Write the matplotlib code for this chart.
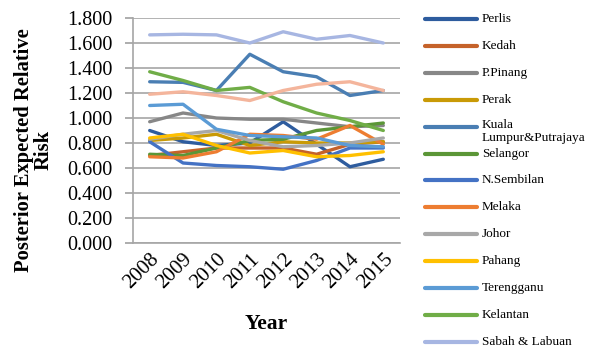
import matplotlib
matplotlib.use("Agg")
import matplotlib.pyplot as plt
from matplotlib.lines import Line2D

plt.rcParams['font.family'] = ['Liberation Serif', 'DejaVu Serif']

years = ['2008', '2009', '2010', '2011', '2012', '2013', '2014', '2015']

perlis = [0.90, 0.81, 0.78, 0.80, 0.97, 0.79, 0.61, 0.67]
kedah = [0.70, 0.73, 0.76, 0.76, 0.76, 0.71, 0.79, 0.81]
p_pinang = [0.97, 1.04, 1.00, 0.99, 0.99, 0.96, 0.93, 0.94]
perak = [0.82, 0.84, 0.87, 0.78, 0.81, 0.80, 0.80, 0.81]
kuala_lumpur = [1.29, 1.285, 1.22, 1.51, 1.37, 1.33, 1.18, 1.22]
selangor = [0.71, 0.70, 0.76, 0.82, 0.83, 0.90, 0.93, 0.96]
n_sembilan = [0.81, 0.64, 0.62, 0.61, 0.59, 0.66, 0.76, 0.76]
melaka = [0.69, 0.68, 0.73, 0.87, 0.86, 0.83, 0.94, 0.79]
johor = [0.83, 0.87, 0.90, 0.82, 0.77, 0.78, 0.80, 0.84]
pahang = [0.84, 0.87, 0.78, 0.72, 0.74, 0.69, 0.70, 0.73]
terengganu = [1.10, 1.11, 0.91, 0.86, 0.85, 0.84, 0.78, 0.77]
kelantan = [1.37, 1.30, 1.22, 1.245, 1.13, 1.04, 0.98, 0.90]
sabah_labuan = [1.665, 1.67, 1.665, 1.60, 1.69, 1.63, 1.66, 1.60]
sarawak = [1.19, 1.21, 1.18, 1.14, 1.22, 1.27, 1.29, 1.22]

series = [
    ("Perlis", perlis, "#2E5C9E"),
    ("Kedah", kedah, "#C5622A"),
    ("P.Pinang", p_pinang, "#878787"),
    ("Perak", perak, "#C99A06"),
    ("Kuala\nLumpur&Putrajaya", kuala_lumpur, "#4A7EB3"),
    ("Selangor", selangor, "#5B9637"),
    ("N.Sembilan", n_sembilan, "#4472C4"),
    ("Melaka", melaka, "#ED7D31"),
    ("Johor", johor, "#A8A8A8"),
    ("Pahang", pahang, "#FFC000"),
    ("Terengganu", terengganu, "#5B9BD5"),
    ("Kelantan", kelantan, "#70AD47"),
    ("Sabah & Labuan", sabah_labuan, "#A7B6E2"),
    (None, sarawak, "#F4B59C"),
]

W, H = 596, 347
fig = plt.figure(figsize=(W / 100, H / 100), dpi=100)
ax = fig.add_axes([133 / W, 1 - 243 / H, 267 / W, 225 / H])

x = list(range(len(years)))
for label, vals, color in series:
    ax.plot(x, vals, color=color, lw=2.4, solid_joinstyle='round',
            solid_capstyle='round', zorder=3)

ax.set_xlim(-0.5, len(years) - 0.5)
ax.set_ylim(0, 1.8)
ax.set_yticks([i * 0.2 for i in range(10)])
ax.set_yticklabels([f"{i * 0.2:.3f}" for i in range(10)], fontsize=14.5)
ax.set_xticks(x)
ax.set_xticklabels(years, fontsize=15, rotation=45, ha='right', va='top',
                   rotation_mode='anchor')
ax.tick_params(axis='x', length=0, pad=5)
ax.tick_params(axis='y', length=6, color='#A0A0A0', width=1.2, pad=9)
ax.grid(axis='y', color='#A6A6A6', lw=1.2, zorder=0)
for s in ['top', 'right']:
    ax.spines[s].set_visible(False)
for s in ['left', 'bottom']:
    ax.spines[s].set_color('#A6A6A6')
    ax.spines[s].set_linewidth(1.2)

fig.text(34 / W, 1 - 150 / H, "Posterior Expected Relative\nRisk",
         rotation=90, ha='center', va='center', fontsize=14.8,
         fontweight='bold', multialignment='center', linespacing=1.0)
fig.text(266.5 / W, 1 - 324 / H, "Year", ha='center', va='center',
         fontsize=15.5, fontweight='bold')

# legend drawn row by row on the right
row_y = 19
step = 26.9
for label, vals, color in series:
    if label is None:
        continue
    fig.add_artist(Line2D([425 / W, 477 / W], [1 - row_y / H] * 2,
                          transform=fig.transFigure, color=color, lw=3,
                          solid_capstyle='round'))
    if "\n" in label:
        fig.text(482 / W, 1 - (row_y - 7.5) / H, label, ha='left', va='top',
                 fontsize=9.5, linespacing=1.15)
    else:
        fig.text(482 / W, 1 - row_y / H, label, ha='left', va='center',
                 fontsize=9.5)
    row_y += step

fig.savefig("out.png", dpi=100)
